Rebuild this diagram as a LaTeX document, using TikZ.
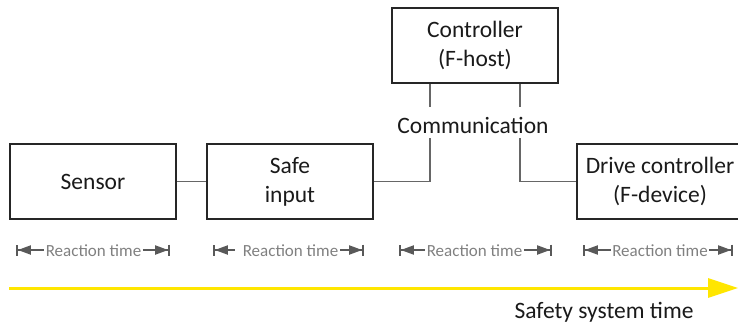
\documentclass[tikz,border=0pt]{standalone}
\usepackage{fontspec}
\setmainfont{Carlito}
\usetikzlibrary{arrows.meta}
\definecolor{boxline}{HTML}{262626}
\definecolor{conn}{HTML}{666666}
\definecolor{rtgray}{HTML}{808080}
\definecolor{rtarrow}{HTML}{595959}
\definecolor{sysyellow}{HTML}{FFE600}
\definecolor{maintext}{HTML}{1A1A1A}
\begin{document}
\begin{tikzpicture}[x=1pt,y=-1pt,
  blockbox/.style={draw=boxline, line width=1.8pt, minimum width=166pt, minimum height=75pt,
    inner sep=0pt, align=center, font=\fontsize{23.5}{29}\selectfont, text=maintext},
  plaintext/.style={font=\fontsize{23.5}{29}\selectfont, text=maintext, inner sep=0pt},
  link/.style={draw=conn, line width=1.1pt},
  rtlabel/.style={font=\fontsize{17}{20}\selectfont, text=rtgray, inner sep=1.5pt, anchor=base},
  rtline/.style={draw=rtarrow, line width=1.8pt},
  rtleft/.style={rtline, {Bar[width=11pt,line width=1.8pt,sep=0pt]Triangle[length=13pt,width=9pt,sep=0pt]}-},
  rtright/.style={rtline, -{Triangle[length=13pt,width=9pt,sep=0pt]Bar[width=11pt,line width=1.8pt,sep=0pt]}},
]
\clip (0,0) rectangle (738,327);

% blocks
\node[blockbox] (sensor) at (93,181.5) {Sensor};
\node[blockbox] (safe) at (290,181.5) {Safe\\input};
\node[blockbox] (ctrl) at (475,45.5) {Controller\\(F-host)};
\node[blockbox] (drive) at (660,181.5) {Drive controller\\(F-device)};
\node[plaintext] (comm) at (473,125) {Communication};

% connectors
\coordinate (cl) at (430,107);
\coordinate (cr) at (520,107);
\coordinate (cl2) at (430,138);
\coordinate (cr2) at (520,138);
\draw[link] (sensor) -- (safe);
\draw[link] (ctrl.south -| cl) -- (cl);
\draw[link] (ctrl.south -| cr) -- (cr);
\draw[link] (cl2) |- (safe.east);
\draw[link] (cr2) |- (drive.west);

% reaction time labels
\node[rtlabel] (rt1) at (93.5,256) {Reaction time};
\coordinate (rt1a) at (16,250); \coordinate (rt1b) at (170,250);
\draw[rtleft] (rt1a) -- (rt1a -| rt1.west);
\draw[rtright] (rt1b -| rt1.east) -- (rt1b);

\node[rtlabel] (rt2) at (290.5,256) {Reaction time};
\coordinate (rt2a) at (213,250); \coordinate (rt2b) at (364,250);
\draw[rtleft] (rt2a) -- ([xshift=-6pt]rt2a -| rt2.west);
\draw[rtright] (rt2b -| rt2.east) -- (rt2b);

\node[rtlabel] (rt3) at (474.5,256) {Reaction time};
\coordinate (rt3a) at (399,250); \coordinate (rt3b) at (552,250);
\draw[rtleft] (rt3a) -- (rt3a -| rt3.west);
\draw[rtright] (rt3b -| rt3.east) -- (rt3b);

\node[rtlabel] (rt4) at (660,256) {Reaction time};
\coordinate (rt4a) at (583,250); \coordinate (rt4b) at (733,250);
\draw[rtleft] (rt4a) -- (rt4a -| rt4.west);
\draw[rtright] (rt4b -| rt4.east) -- (rt4b);

% safety system time arrow
\coordinate (ys) at (9,288);
\coordinate (ye) at (738,288);
\draw[draw=sysyellow, line width=3pt, -{Triangle[length=30pt,width=19pt,fill=sysyellow]}] (ys) -- (ye);
\node[plaintext] (sst) at (604,312) {Safety system time};
\end{tikzpicture}
\end{document}
